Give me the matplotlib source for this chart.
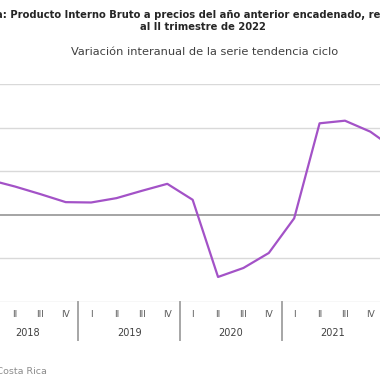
import matplotlib.pyplot as plt
import matplotlib.transforms as mtransforms

# Data: year-on-year change of the trend-cycle series (%)
years = ['2018', '2019', '2020', '2021', '2022']
quarters = ['I', 'II', 'III', 'IV']
values = [4.0, 3.24, 2.37, 1.45,
          1.41, 1.91, 2.75, 3.55,
          1.72, -7.13, -6.10, -4.38,
          -0.40, 10.49, 10.79, 9.53,
          7.45, 5.6]
y_ticks = [-10, -5, 0, 5, 10, 15]

title = ('Costa Rica: Producto Interno Bruto a precios del año anterior '
         'encadenado, referencia 2017,\nal II trimestre de 2022')
subtitle = 'Variación interanual de la serie tendencia ciclo'
source = 'Fuente: Banco Central de Costa Rica'

fig = plt.figure(figsize=(3.8, 3.8), dpi=100)
ax = fig.add_axes([-0.0608, 0.2053, 1.2024, 0.5737])

x = list(range(len(values)))
ax.plot(x, values, color='#a352c7', linewidth=1.6, zorder=3)

ax.set_xlim(-0.5, len(values) - 0.5)
ax.set_ylim(-10, 15)
ax.set_yticks(y_ticks)
ax.set_yticklabels([])
ax.tick_params(left=False, bottom=False, labelbottom=False)
for yv in y_ticks:
    if yv == 0:
        ax.axhline(yv, color='#8c8c8c', linewidth=1.1, zorder=2)
    else:
        ax.axhline(yv, color='#d9d9d9', linewidth=1.0, zorder=1)
for s in ax.spines.values():
    s.set_visible(False)

# two-level category axis
trans = mtransforms.blended_transform_factory(ax.transData, ax.transAxes)
for i in x:
    ax.text(i, -0.057, quarters[i % 4], transform=trans, ha='center',
            va='center', fontsize=6.5, color='#595959')
for k, yr in enumerate(years):
    n = min(4, len(values) - 4 * k)
    ax.text(4 * k + (n - 1) / 2, -0.1436, yr, transform=trans, ha='center',
            va='center', fontsize=7, color='#404040')
    ax.plot([4 * k - 0.5, 4 * k - 0.5], [0, -0.174], transform=trans,
            color='#a6a6a6', linewidth=1.4, clip_on=False)

fig.text(0.535, 0.945, title, ha='center', va='center', fontsize=7.2,
         fontweight='bold', color='#262626', linespacing=1.3)
fig.text(0.539, 0.862, subtitle, ha='center', va='center', fontsize=8.2,
         color='#404040')
fig.text(47 / 380, 1 - 372 / 380, source, ha='right', va='center',
         fontsize=6.8, color='#8c8c8c')

fig.savefig('out.png', dpi=100)
